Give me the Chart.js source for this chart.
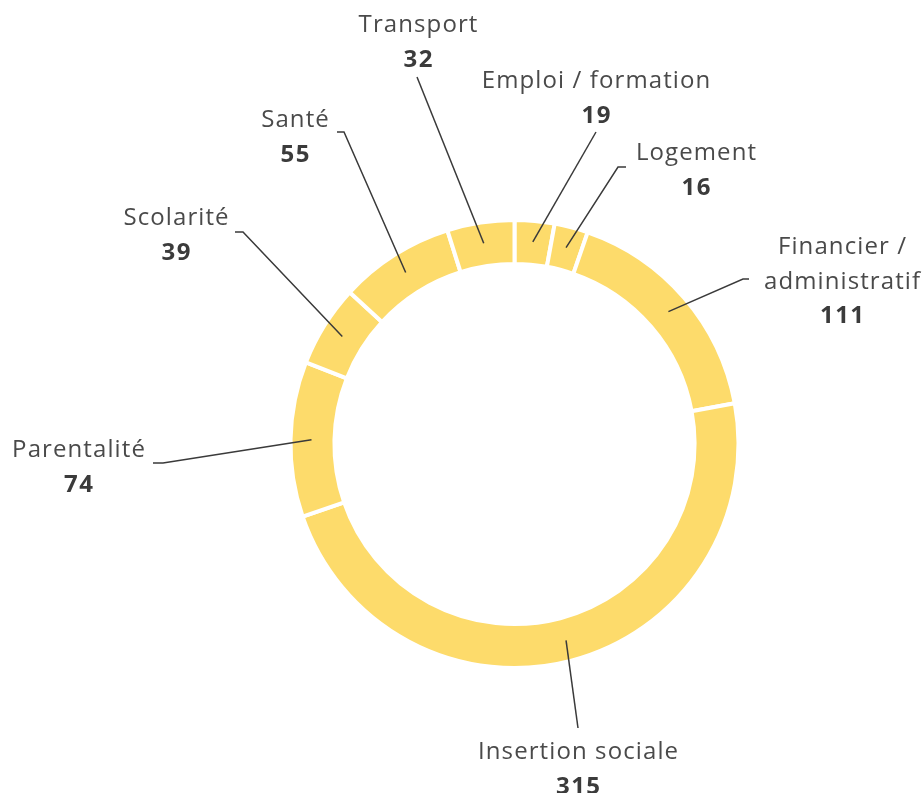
<!DOCTYPE html>
<html>
<head>
<meta charset="utf-8">
<script src="https://cdn.jsdelivr.net/npm/chart.js@4.4.1/dist/chart.umd.min.js"></script>
<style>
  html, body { margin: 0; padding: 0; background: #ffffff; }
  canvas { display: block; }
</style>
</head>
<body>
<canvas id="c" width="923" height="793"></canvas>
<script>
// ---- Data ----
const categories = ['Emploi / formation', 'Logement', 'Financier / administratif', 'Insertion sociale', 'Parentalité', 'Scolarité', 'Santé', 'Transport'];
const values = [19, 16, 111, 315, 74, 39, 55, 32];
const labelLines = [['Emploi / formation'], ['Logement'], ['Financier /', 'administratif'], ['Insertion sociale'], ['Parentalité'], ['Scolarité'], ['Santé'], ['Transport']];

// ---- Label layout (annotation placement, not data) ----
const labelLayout = [
  { end: [596, 132], elbow: null,       text: [596, 88] },
  { end: [618, 167], elbow: [626, 167], text: [696, 160] },
  { end: [743, 279], elbow: [749, 279], text: [842, 254] },
  { end: [578, 728], elbow: null,       text: [578, 759] },
  { end: [163, 463], elbow: [153, 463], text: [78.5, 457] },
  { end: [243, 232], elbow: [235, 232], text: [176, 225] },
  { end: [344, 132], elbow: [337, 132], text: [295, 127] },
  { end: [417, 77],  elbow: null,       text: [418, 32] }
];

const RING_COLOR = '#fddb6b';
const LABEL_FONT = '24px "Open Sans", "Noto Sans", sans-serif';
const VALUE_FONT = 'bold 24px "Open Sans", "Noto Sans", sans-serif';
const LABEL_SPACING = 1.1;
const VALUE_SPACING = 1.5;
const LINE_GAP = 34.5;

function spacedText(ctx, text, x, y, spacing) {
  if ('letterSpacing' in ctx) {
    ctx.letterSpacing = spacing + 'px';
    ctx.fillText(text, x + spacing / 2, y);
    ctx.letterSpacing = '0px';
  } else {
    ctx.fillText(text, x, y);
  }
}

const leaderLabels = {
  id: 'leaderLabels',
  afterDraw(chart) {
    const ctx = chart.ctx;
    const meta = chart.getDatasetMeta(0);
    meta.data.forEach((arc, i) => {
      const p = arc.getProps(['x', 'y', 'startAngle', 'endAngle', 'innerRadius', 'outerRadius'], true);
      const mid = (p.startAngle + p.endAngle) / 2;
      const r = (p.innerRadius + p.outerRadius) / 2 + 1;
      const sx = p.x + Math.cos(mid) * r;
      const sy = p.y + Math.sin(mid) * r;
      const L = labelLayout[i];
      ctx.save();
      ctx.strokeStyle = '#3a3a3a';
      ctx.lineWidth = 1.5;
      ctx.beginPath();
      ctx.moveTo(sx, sy);
      ctx.lineTo(L.end[0], L.end[1]);
      if (L.elbow) ctx.lineTo(L.elbow[0], L.elbow[1]);
      ctx.stroke();

      ctx.textAlign = 'center';
      ctx.textBaseline = 'alphabetic';
      ctx.fillStyle = '#4a4a4a';
      ctx.font = LABEL_FONT;
      let y = L.text[1];
      labelLines[i].forEach((line, k) => {
        spacedText(ctx, line, L.text[0], y, LABEL_SPACING);
        if (k < labelLines[i].length - 1) y += LINE_GAP;
      });
      ctx.fillStyle = '#3b3b3b';
      ctx.font = VALUE_FONT;
      spacedText(ctx, String(values[i]), L.text[0], y + LINE_GAP, VALUE_SPACING);
      ctx.restore();
    });
  }
};

new Chart(document.getElementById('c'), {
  type: 'doughnut',
  data: {
    labels: categories,
    datasets: [{
      data: values,
      backgroundColor: RING_COLOR,
      borderColor: '#ffffff',
      borderWidth: 4,
      hoverOffset: 0,
      offset: 0
    }]
  },
  options: {
    responsive: false,
    animation: false,
    events: [],
    radius: 224,
    cutout: '80.4%',
    rotation: 0,
    layout: { padding: { left: 106, top: 95, right: 0, bottom: 0 } },
    plugins: {
      legend: { display: false },
      tooltip: { enabled: false }
    }
  },
  plugins: [leaderLabels]
});
</script>
</body>
</html>
